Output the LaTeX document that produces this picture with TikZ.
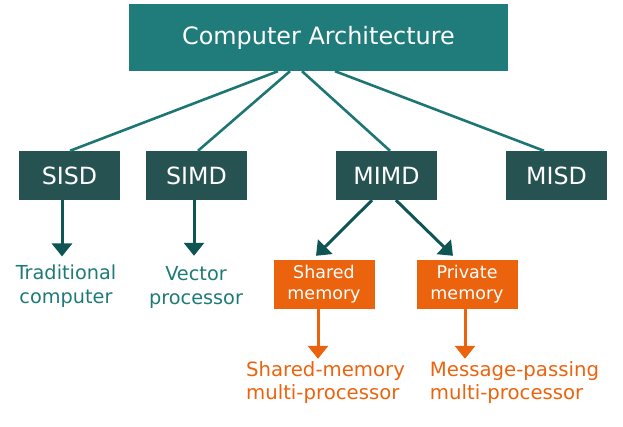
\documentclass[tikz,border=0pt]{standalone}
\usepackage{fontspec}
\setmainfont{DejaVu Sans}
\usetikzlibrary{arrows.meta}

\definecolor{archteal}{RGB}{32,124,123}
\definecolor{classgreen}{RGB}{38,83,82}
\definecolor{spoketeal}{RGB}{30,118,116}
\definecolor{arrowteal}{RGB}{14,85,83}
\definecolor{labelteal}{RGB}{30,122,120}
\definecolor{memorange}{RGB}{236,99,14}

\tikzset{
  topbox/.style={fill=archteal, text=white, minimum width=379pt, minimum height=67pt, inner sep=0pt, font=\fontsize{23.9}{28}\selectfont},
  classbox/.style={fill=classgreen, text=white, minimum width=101pt, minimum height=49pt, inner sep=0pt, font=\fontsize{23.7}{28}\selectfont},
  membox/.style={fill=memorange, text=white, minimum width=101pt, minimum height=49pt, inner sep=0pt, align=center, font=\fontsize{17.5}{21}\selectfont},
  leaflabel/.style={text=labelteal, inner sep=0pt, align=center, font=\fontsize{19.3}{24}\selectfont},
  proclabel/.style={text=memorange, inner sep=0pt, align=left, font=\fontsize{19.7}{23}\selectfont},
  spoke/.style={draw=spoketeal, line width=2.6pt},
  darrow/.style={draw=arrowteal, line width=3pt, -{Triangle[width=20pt,length=13pt]}},
  oarrow/.style={draw=memorange, line width=3pt, -{Triangle[width=20pt,length=13pt]}}
}

\begin{document}
\begin{tikzpicture}[x=1pt,y=-1pt]
  \useasboundingbox (0,0) rectangle (623,427);

  \node[topbox] (arch) at (318.5,37.5) {Computer Architecture};

  \node[classbox] (sisd) at (69.5,175.5) {SISD};
  \node[classbox] (simd) at (196.5,175.5) {SIMD};
  \node[classbox] (mimd) at (386.5,175.5) {MIMD};
  \node[classbox] (misd) at (556.5,175.5) {MISD};

  \draw[spoke] ([xshift=-40.5pt]arch.south) -- ([xshift=0.5pt]sisd.north);
  \draw[spoke] ([xshift=-28.5pt]arch.south) -- ([xshift=1.5pt]simd.north);
  \draw[spoke] ([xshift=-16.5pt]arch.south) -- ([xshift=3.5pt]mimd.north);
  \draw[spoke] ([xshift=16.5pt]arch.south) -- ([xshift=-12.5pt]misd.north);

  \node[leaflabel] (trad) at (66,286) {Traditional\\ computer};
  \node[leaflabel] (vect) at (196,287) {Vector\\processor};

  \draw[darrow] ([xshift=-7.5pt]sisd.south) -- ([xshift=-4pt,yshift=8pt]trad.north);
  \draw[darrow] ([xshift=-2.5pt]simd.south) -- ([xshift=-2pt,yshift=10pt]vect.north);

  \node[membox] (shmem) at (324,284.5) {Shared\\memory};
  \node[membox] (pvmem) at (467,284.5) {Private\\memory};

  \draw[darrow] ([xshift=-14.5pt]mimd.south) -- ([xshift=-8pt,yshift=4pt]shmem.north);
  \draw[darrow] ([xshift=9.5pt]mimd.south) -- ([xshift=-14pt,yshift=4pt]pvmem.north);

  \node[proclabel] (smp) at (325.5,383) {Shared-memory\\multi-processor};
  \node[proclabel] (mpp) at (514.5,383) {Message-passing\\multi-processor};

  \draw[oarrow] ([xshift=-6pt]shmem.south) -- ([xshift=-7.5pt,yshift=3pt]smp.north);
  \draw[oarrow] ([xshift=-2pt]pvmem.south) -- ([xshift=-49.5pt,yshift=3pt]mpp.north);
\end{tikzpicture}
\end{document}
